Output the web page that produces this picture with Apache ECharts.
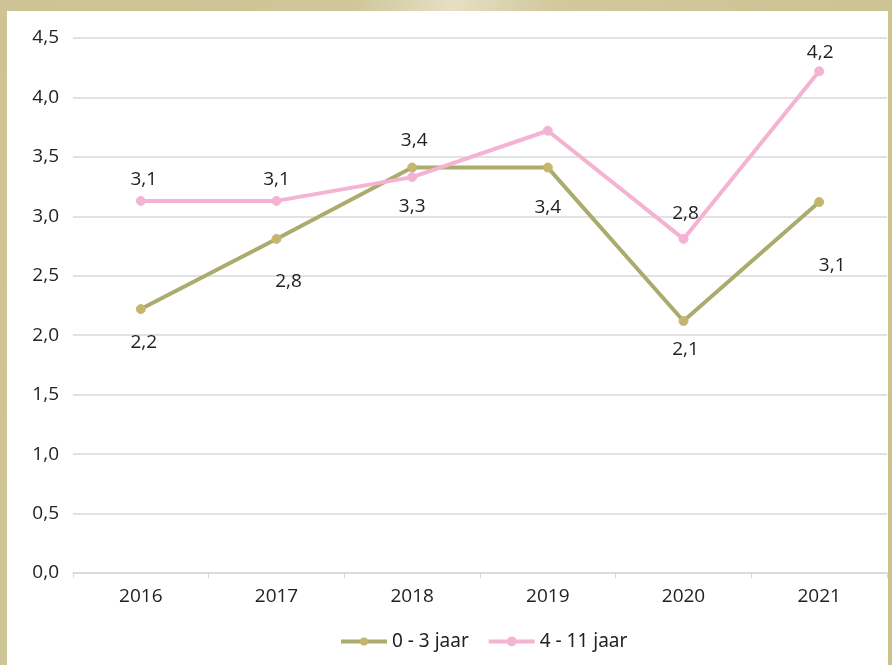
<!DOCTYPE html>
<html><head><meta charset="utf-8">
<script src="https://cdn.jsdelivr.net/npm/echarts@6/dist/echarts.min.js"></script>
<style>
html,body{margin:0;padding:0;width:892px;height:665px;overflow:hidden;}
body{background:linear-gradient(100deg,#cdc394 0%,#cfc699 35%,#e6dfc4 45%,#d1c89c 55%,#cbc191 100%);position:relative;}
#panel{position:absolute;left:7px;top:11px;width:881px;height:654px;background:#fff;}
#chart{position:absolute;left:0;top:0;width:892px;height:665px;}
</style></head>
<body><div id="panel"></div><div id="chart"></div>
<script>
const categories = ['2016','2017','2018','2019','2020','2021'];
const yTicks = [0,0.5,1,1.5,2,2.5,3,3.5,4,4.5];
const series0Name = '0 - 3 jaar';
const series0 = [2.22, 2.81, 3.41, 3.41, 2.12, 3.12];
const series1Name = '4 - 11 jaar';
const series1 = [3.13, 3.13, 3.33, 3.72, 2.81, 4.22];
// label offsets [dx, dy] relative to point, null = hidden
const labelOffsets0 = [[3,34],[12,43],[2,-27],[0,40],[2,29],[13,64]];
const labelOffsets1 = [[3,-21],[0,-21],[0,29],null,[2,-25],[1,-19]];

const fmt = v => v.toFixed(1).replace('.', ',');
function build(vals, offs){
  return vals.map((v,i)=>({
    value: v,
    label: offs[i] ? {show:true, position:'inside', offset:offs[i]} : {show:false}
  }));
}
const chart = echarts.init(document.getElementById('chart'));
const font = '"Open Sans", sans-serif';
const legFont = '"Noto Sans", sans-serif';
chart.setOption({
  backgroundColor: 'transparent',
  animation: false,
  grid: {left:73, right:5, top:38, bottom:92},
  legend: {
    bottom: 9, left: 334,
    itemWidth: 46, itemHeight: 10, itemGap: 18,
    textStyle: {fontFamily: legFont, fontSize: 19, color: '#222'},
    lineStyle: {width: 4},
    data: [series0Name, series1Name]
  },
  xAxis: {
    type: 'category', data: categories, boundaryGap: true,
    axisLine: {lineStyle: {color: '#d9d9d9', width: 1.5}},
    axisTick: {show: true, length: 5, lineStyle: {color: '#d9d9d9'}},
    axisLabel: {fontFamily: font, fontSize: 19, color: '#222', margin: 14}
  },
  yAxis: {
    type: 'value', min: yTicks[0], max: yTicks[yTicks.length-1], interval: 0.5,
    axisLine: {show: false}, axisTick: {show: false},
    splitLine: {lineStyle: {color: '#d9d9d9', width: 1.5}},
    axisLabel: {fontFamily: font, fontSize: 19, color: '#222', margin: 14,
      formatter: v => fmt(v)}
  },
  series: [
    {
      name: series0Name, type: 'line', data: build(series0, labelOffsets0),
      symbol: 'circle', symbolSize: 9,
      lineStyle: {color: '#abab6e', width: 4},
      itemStyle: {color: '#c4b66f', borderColor: '#c4b66f'},
      label: {fontFamily: font, fontSize: 19, color: '#222', formatter: p => fmt(p.value)},
      z: 2
    },
    {
      name: series1Name, type: 'line', data: build(series1, labelOffsets1),
      symbol: 'circle', symbolSize: 9,
      lineStyle: {color: '#f4b3d2', width: 4},
      itemStyle: {color: '#f4b3d2', borderColor: '#f0b6da', borderWidth: 1},
      label: {fontFamily: font, fontSize: 19, color: '#222', formatter: p => fmt(p.value)},
      z: 3
    }
  ]
});
</script></body></html>
